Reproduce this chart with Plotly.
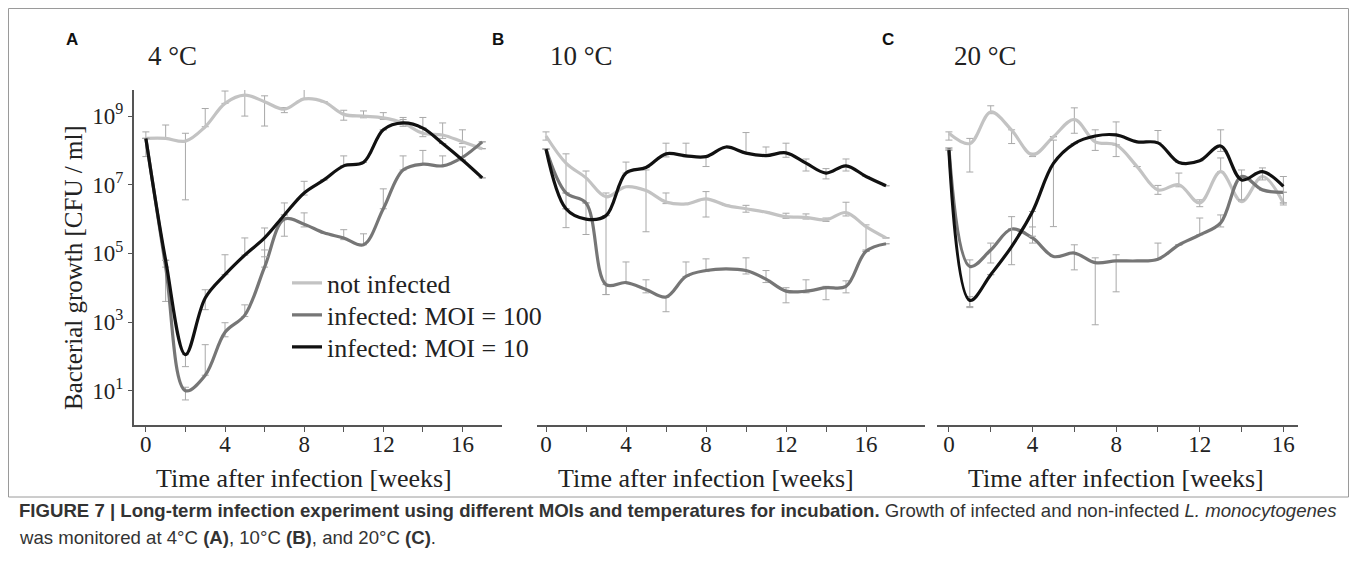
import plotly.graph_objects as go

# ---------------- data (log10 CFU/ml) ----------------
weeks_A = list(range(18))
weeks_B = list(range(18))
weeks_C = list(range(17))

# Panel A, 4 °C
a_not = [8.35, 8.35, 8.27, 8.69, 9.37, 9.61, 9.42, 9.2, 9.5, 9.42, 9.05, 9.0, 8.95, 8.8, 8.5, 8.45, 8.25, 8.05]
a_not_up = [0.19, 0.39, 0.23, 0.53, 0.36, 0.32, 0.17, 0.05, 0.42, 0, 0.12, 0.15, 0.15, 0.16, 0.46, 0.35, 0.35, 0]
a_not_dn = [0.53, 0, 1.71, 0, 0, 0.61, 0.71, 0.1, 0, 0, 0.17, 0.05, 0.05, 0.05, 0.1, 0.1, 0.05, 0]
a_m100 = [8.35, 4.6, 1.0, 1.45, 2.7, 3.2, 4.6, 6.0, 5.85, 5.6, 5.45, 5.25, 6.3, 7.43, 7.6, 7.55, 7.8, 8.25]
a_m100_up = [0, 0, 0.1, 0.89, 0.28, 0.3, 0.5, 0.47, 0.33, 0, 0.24, 0.32, 0.58, 0.41, 0.4, 0.29, 0.3, 0]
a_m100_dn = [0, 1.0, 0.27, 0, 0.13, 0.04, 0, 0.5, 0.08, 0, 0.05, 0, 0, 0, 0, 0, 0.1, 0]
a_m10 = [8.35, 4.8, 2.05, 3.7, 4.38, 4.95, 5.45, 6.12, 6.76, 7.14, 7.55, 7.65, 8.6, 8.8, 8.65, 8.2, 7.72, 7.2]
a_m10_up = [0, 0, 0, 0.24, 0.58, 0.5, 0.29, 0, 0.34, 0, 0.29, 0, 0, 0.1, 0, 0, 0, 0]
a_m10_dn = [0, 0, 0.35, 0.34, 0, 0, 0.55, 0, 0.06, 0, 0, 0, 0, 0.1, 0, 0, 0, 0]

# Panel B, 10 °C
b_not = [8.42, 7.63, 7.2, 6.65, 6.94, 6.83, 6.5, 6.44, 6.59, 6.4, 6.3, 6.2, 6.07, 6.05, 5.98, 6.19, 5.78, 5.45]
b_not_up = [0.12, 0.27, 0.2, 0.11, 0, 0.6, 0.26, 0, 0.21, 0, 0.1, 0, 0.1, 0.1, 0.05, 0.3, 0.05, 0]
b_not_dn = [0.12, 1.88, 1.65, 2.85, 0, 1.2, 0.05, 0, 0.53, 0, 0.1, 0, 0.05, 0.05, 0.05, 0.1, 0.68, 0]
b_m100 = [8.04, 6.76, 6.47, 4.09, 4.15, 3.95, 3.73, 4.33, 4.5, 4.55, 4.5, 4.25, 3.9, 3.9, 4.0, 4.04, 5.06, 5.28]
b_m100_up = [0, 0, 0, 0, 0.6, 0.28, 0, 0.42, 0.34, 0, 0.37, 0.25, 0.1, 0.33, 0.04, 0.16, 0, 0]
b_m100_dn = [0, 0, 0, 0.29, 0, 0.1, 0.43, 0, 0.03, 0, 0.1, 0.1, 0.34, 0.05, 0.35, 0.19, 0, 0]
b_m10 = [8.04, 6.3, 6.0, 6.1, 7.34, 7.5, 7.9, 7.84, 7.82, 8.1, 7.92, 7.85, 7.93, 7.63, 7.34, 7.55, 7.24, 6.97]
b_m10_up = [0, 0, 0, 0, 0.32, 0, 0.31, 0.37, 0, 0, 0.6, 0.25, 0.28, 0.12, 0.13, 0.2, 0, 0]
b_m10_dn = [0, 0, 0, 0, 0, 0, 0.09, 0.03, 0.29, 0, 0, 0, 0.13, 0.23, 0.17, 0.15, 0, 0]

# Panel C, 20 °C
c_not = [8.5, 8.2, 9.12, 8.59, 7.87, 8.4, 8.9, 8.25, 8.16, 7.53, 6.85, 7.0, 6.47, 7.38, 6.51, 7.24, 6.47]
c_not_up = [0.04, 0.15, 0.18, 0.01, 0.05, 0, 0.34, 0.35, 0, 0, 0.13, 0.34, 0.09, 0.4, 0, 0, 0]
c_not_dn = [0.2, 0.83, 0.05, 0.39, 0.05, 0, 0.4, 0.25, 0, 0, 0.13, 0.06, 0.11, 0, 0, 0, 0]
c_m100 = [8.07, 4.62, 5.1, 5.71, 5.45, 4.91, 5.01, 4.73, 4.78, 4.78, 4.83, 5.25, 5.54, 5.89, 7.24, 6.85, 6.78]
c_m100_up = [0, 0.19, 0.2, 0, 0.32, 0, 0.24, 0.14, 0.18, 0, 0.47, 0, 0.49, 0.23, 0.19, 0, 0]
c_m100_dn = [0, 1.2, 0.38, 0, 0.15, 0, 0.49, 1.81, 0.9, 0, 0, 0, 0, 0.12, 0.68, 0, 0]
c_m10 = [8.01, 3.63, 4.38, 5.2, 6.22, 7.62, 8.2, 8.42, 8.45, 8.25, 8.22, 7.65, 7.7, 8.13, 7.14, 7.38, 6.95]
c_m10_up = [0, 0.11, 0, 0.87, 0, 0.68, 0, 0, 0.38, 0, 0.36, 0, 0, 0.47, 0, 0.11, 0.29]
c_m10_dn = [0, 0.18, 0, 0.53, 0.72, 1.84, 0, 0, 0.63, 0, 0, 0, 0, 0.16, 0, 0.24, 0.54]

series_names = ["not infected", "infected: MOI = 100", "infected: MOI = 10"]
series_colors = ["#c3c3c3", "#767676", "#111111"]
x_major = [0, 4, 8, 12, 16]
x_minor = [2, 6, 10, 14]
y_ticks_exp = [1, 3, 5, 7, 9]
panel_letters = ["A", "B", "C"]
panel_titles = ["4 °C", "10 °C", "20 °C"]

# page has an 8px body margin; coordinates below are page pixels
OFF = 8
W, H = 1357 - 2 * OFF, 583 - 2 * OFF
SERIF = "Liberation Serif, Times New Roman, serif"
SANS = "Liberation Sans, Arial, sans-serif"


def px(x):
    return (x - OFF) / W


def py(y):
    return 1 - (y - OFF) / H


def err(vals, up, dn):
    plus, minus = [], []
    for v, u, d in zip(vals, up, dn):
        if u == 0 and d == 0:
            plus.append(None)
            minus.append(None)
        else:
            plus.append(10 ** (v + u) - 10 ** v)
            minus.append(10 ** v - 10 ** (v - d))
    return plus, minus


panels = [
    (weeks_A, [(a_not, a_not_up, a_not_dn), (a_m100, a_m100_up, a_m100_dn), (a_m10, a_m10_up, a_m10_dn)]),
    (weeks_B, [(b_not, b_not_up, b_not_dn), (b_m100, b_m100_up, b_m100_dn), (b_m10, b_m10_up, b_m10_dn)]),
    (weeks_C, [(c_not, c_not_up, c_not_dn), (c_m100, c_m100_up, c_m100_dn), (c_m10, c_m10_up, c_m10_dn)]),
]
legend_keys = ["legend", "legend2", "legend3"]

fig = go.Figure()
for pi, (wk, sers) in enumerate(panels):
    xa = "x" if pi == 0 else f"x{pi + 1}"
    ya = "y" if pi == 0 else f"y{pi + 1}"
    for si, (vals, up, dn) in enumerate(sers):
        plus, minus = err(vals, up, dn)
        fig.add_trace(go.Scatter(
            x=wk, y=[10 ** v for v in vals],
            mode="lines", line=dict(color=series_colors[si], width=3.2, shape="spline", smoothing=1.0),
            error_y=dict(type="data", symmetric=False, array=plus, arrayminus=minus,
                         color="#a8a8a8", thickness=1, width=3.5),
            name=series_names[si], showlegend=(pi == 0), legend=legend_keys[si],
            xaxis=xa, yaxis=ya, hoverinfo="skip",
        ))

ydom = [py(425), py(90)]
xdoms = [[px(134), px(502)], [px(537), px(925)], [px(937), px(1298)]]
xranges = [[-0.6, 18.0], [-0.45, 18.95], [-0.57, 16.7]]

axis_common = dict(showline=True, linecolor="#555555", linewidth=2, ticks="outside", ticklen=5,
                   tickwidth=1.2, tickcolor="#555555", showgrid=False, zeroline=False,
                   tickmode="array", tickvals=x_major, ticktext=[str(v) for v in x_major],
                   ticklabelstandoff=-8,
                   minor=dict(tickmode="array", tickvals=x_minor, ticks="outside", ticklen=5,
                              tickwidth=1.2, tickcolor="#555555", showgrid=False),
                   tickfont=dict(family=SERIF, size=23, color="#222222"))

layout = dict(
    width=W, height=H, margin=dict(l=0, r=0, t=0, b=0),
    paper_bgcolor="white", plot_bgcolor="white",
    showlegend=True,
)
legend_y = [283, 315, 347]
for k, yy in zip(legend_keys, legend_y):
    layout[k] = dict(x=px(287), y=py(yy), xanchor="left", yanchor="middle",
                     bgcolor="rgba(0,0,0,0)", font=dict(family=SERIF, size=26, color="#222222"),
                     itemwidth=30)
for i in range(3):
    key = "xaxis" if i == 0 else f"xaxis{i + 1}"
    yk = "yaxis" if i == 0 else f"yaxis{i + 1}"
    layout[key] = dict(axis_common, domain=xdoms[i], range=xranges[i],
                       anchor="y" if i == 0 else f"y{i + 1}")
    ydef = dict(domain=ydom, type="log", range=[0, 9.76], showgrid=False, zeroline=False,
                anchor="x" if i == 0 else f"x{i + 1}")
    if i == 0:
        ydef.update(showline=True, linecolor="#555555", linewidth=2, ticks="outside", ticklen=4,
                    tickcolor="#555555", tickvals=[10 ** e for e in y_ticks_exp],
                    ticktext=[f"10<sup>{e}</sup>" for e in y_ticks_exp],
                    tickfont=dict(family=SERIF, size=23, color="#222222"))
    else:
        ydef.update(visible=False)
    layout[yk] = ydef

fig.update_layout(**layout)

ann = []
letter_x = [72, 498, 888]
title_x = [172, 581, 985]


def note(text, x, y, size, family, **kw):
    d = dict(text=text, x=x, y=y, xref="paper", yref="paper", showarrow=False,
             xanchor="center", yanchor="middle", font=dict(family=family, size=size, color="#222222"))
    d.update(kw)
    return d


for i in range(3):
    ann.append(note(f"<b>{panel_letters[i]}</b>", px(letter_x[i]), py(39), 17, SANS, font=dict(family=SANS, size=17, color="#111111")))
    ann.append(note(panel_titles[i], px(title_x[i]), py(56), 27, SERIF))
    ann.append(note("Time after infection [weeks]", 8, py(478), 26, SERIF,
                    xref="x" if i == 0 else f"x{i + 1}"))
ann.append(note("Bacterial growth [CFU / ml]", px(73), py(268), 25, SERIF, textangle=-90))
ann.append(note("<b>FIGURE 7 | Long-term infection experiment using different MOIs and temperatures for incubation.</b>"
                " Growth of infected and non-infected <i>L. monocytogenes</i>",
                px(17), py(510), 18, SANS, xanchor="left", font=dict(family=SANS, size=18.6, color="#333333")))
ann.append(note("was monitored at 4°C <b>(A)</b>, 10°C <b>(B)</b>, and 20°C <b>(C)</b>.",
                px(17), py(537), 18, SANS, xanchor="left", font=dict(family=SANS, size=18.6, color="#333333")))
fig.update_layout(annotations=ann)

fig.add_shape(type="rect", xref="paper", yref="paper", x0=px(8.5), x1=px(1348.5), y0=py(497), y1=py(8.5),
              line=dict(color="#9a9a9a", width=1))

fig.write_html("out.html")
